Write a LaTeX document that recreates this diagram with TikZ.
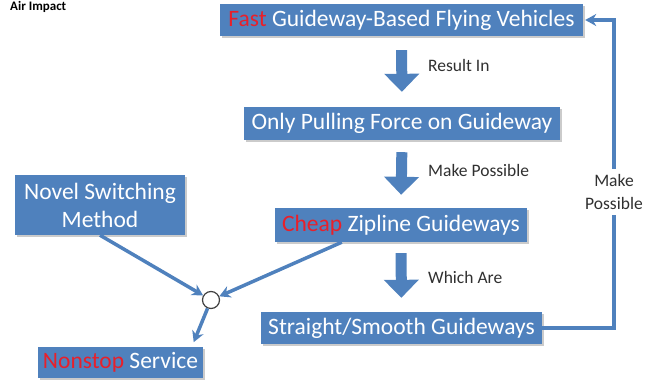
\documentclass[tikz,border=0pt]{standalone}
\usepackage{fontspec}
\setmainfont{Carlito}
\usetikzlibrary{arrows.meta,shadows}
\definecolor{boxblue}{HTML}{4F81BD}
\definecolor{redtxt}{HTML}{E8202A}
\definecolor{lbl}{HTML}{303030}
\begin{document}
\begin{tikzpicture}[x=1pt,y=-1pt,
  box/.style={fill=boxblue, text=white, font=\fontsize{23.5}{28}\selectfont, inner sep=0pt, align=center,
    drop shadow={shadow xshift=2pt, shadow yshift=-2pt, fill=black!45, opacity=0.45}},
  blockarrow/.style={draw=boxblue, line width=11pt, -{Triangle[length=18pt,width=34pt]}},
  link/.style={draw=boxblue, line width=3.5pt, line join=miter, -{Stealth[length=11pt,width=12pt]}},
  lab/.style={text=lbl, font=\fontsize{17.5}{23}\selectfont, inner sep=0pt}]
\useasboundingbox (0,0) rectangle (662,381);
\node[font=\bfseries\fontsize{13}{15}\selectfont, anchor=west, inner sep=0pt] (title) at (10,7) {Air Impact};

\node[box, minimum width=363pt, minimum height=32pt] (b1) at (401.5,20) {\textcolor{redtxt}{Fast} Guideway-Based Flying Vehicles};
\node[box, minimum width=316pt, minimum height=33pt] (b2) at (402,123.5) {Only Pulling Force on Guideway};
\node[box, minimum width=252pt, minimum height=34pt] (b3) at (401,225) {\textcolor{redtxt}{Cheap} Zipline Guideways};
\node[box, minimum width=281pt, minimum height=32pt] (b4) at (401.5,328) {Straight/Smooth Guideways};
\node[box, minimum width=170pt, minimum height=60pt] (nov) at (100,205) {Novel Switching\\Method};
\node[box, minimum width=165pt, minimum height=31pt] (non) at (120.5,362.5) {\textcolor{redtxt}{Nonstop} Service};
\node[circle, draw=black!75, fill=white, line width=1.2pt, minimum size=17pt, inner sep=0pt] (c) at (211,300) {};

\draw[blockarrow, shorten <=14pt, shorten >=15pt] (b1.south) -- (b2.north);
\draw[blockarrow, shorten <=12pt, shorten >=13pt] (b2.south) -- (b3.north);
\draw[blockarrow, shorten <=11pt, shorten >=14pt] (b3.south) -- (b4.north);

\node[lab, anchor=west] (l1) at (428,65) {Result In};
\node[lab, anchor=west] (l2) at (428,170) {Make Possible};
\node[lab, anchor=west] (l3) at (428,277) {Which Are};

\coordinate (fbx) at (614,0);
\draw[link, shorten >=2pt] (b4.east) -- (b4.east -| fbx) -- (b1.east -| fbx) -- (b1.east);
\node[lab, fill=white, align=center, inner xsep=2pt, inner ysep=5pt] (mp) at (614,192) {Make\\Possible};

\draw[link] (nov.south) -- (c);
\draw[link] ([xshift=67pt]b3.south west) -- (c);
\draw[link, shorten >=5pt] (c) -- ([xshift=154pt]non.north west);
\end{tikzpicture}
\end{document}
